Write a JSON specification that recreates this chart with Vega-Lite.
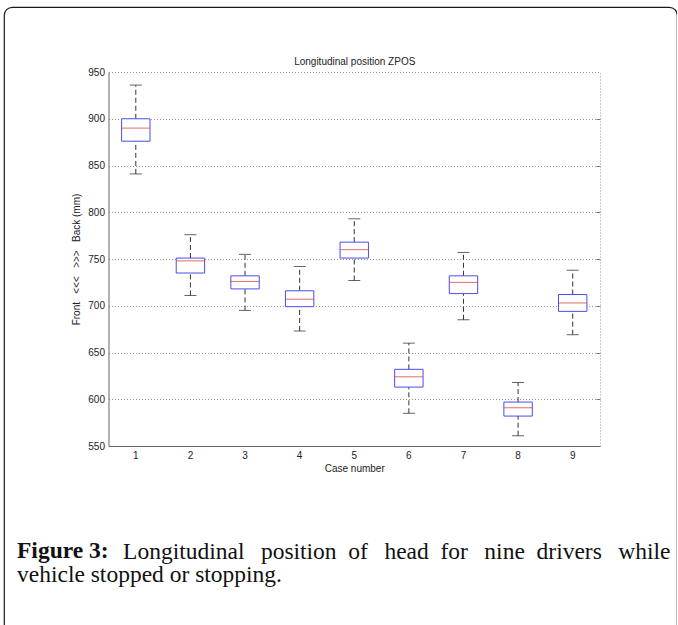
{
  "$schema": "https://vega.github.io/schema/vega-lite/v6.json",
  "width": 673,
  "height": 640,
  "padding": {"left": 4, "top": 7, "right": 0, "bottom": -22},
  "autosize": {"type": "none"},
  "background": "white",
  "config": {
    "view": {"stroke": "#1a1a1a", "strokeWidth": 1.2, "cornerRadius": 8, "fill": "white"},
    "axis": {
      "labelFont": "Liberation Sans", "titleFont": "Liberation Sans",
      "labelFontSize": 10, "titleFontSize": 10,
      "labelColor": "#222", "titleColor": "#222",
      "titleFontWeight": "normal", "domainColor": "#777", "tickColor": "#777"
    }
  },
  "title": {
    "text": "Figure 3:",
    "subtitle": "vehicle stopped or stopping.",
    "orient": "bottom", "anchor": "start", "frame": "group",
    "offset": -108, "dx": 13,
    "font": "Liberation Serif", "fontSize": 23.5, "fontWeight": "bold", "color": "#111", "baseline": "top",
    "subtitleFont": "Liberation Serif", "subtitleFontSize": 23.5, "subtitleFontWeight": "normal",
    "subtitleColor": "#111", "subtitleLineHeight": 24, "subtitlePadding": 0.5
  },
  "data": {
    "values": [
      {"case": 1, "lower": 841, "q1": 876, "median": 890, "q3": 900, "upper": 936},
      {"case": 2, "lower": 711, "q1": 735, "median": 748, "q3": 751, "upper": 776},
      {"case": 3, "lower": 695, "q1": 718, "median": 726, "q3": 732, "upper": 755},
      {"case": 4, "lower": 673, "q1": 699, "median": 707, "q3": 716, "upper": 742},
      {"case": 5, "lower": 727, "q1": 751, "median": 760, "q3": 768, "upper": 793},
      {"case": 6, "lower": 585, "q1": 613, "median": 624, "q3": 632, "upper": 660},
      {"case": 7, "lower": 685, "q1": 713, "median": 725, "q3": 732, "upper": 757},
      {"case": 8, "lower": 561, "q1": 582, "median": 591, "q3": 597, "upper": 618},
      {"case": 9, "lower": 669, "q1": 694, "median": 703, "q3": 712, "upper": 738}
    ]
  },
  "layer": [
    {
      "mark": {"type": "rule", "color": "#333", "strokeDash": [5, 3], "strokeWidth": 1},
      "encoding": {
        "x": {
          "field": "case", "type": "ordinal",
          "scale": {"range": [104.5, 596], "paddingInner": 0, "paddingOuter": 0},
          "axis": {
            "orient": "bottom", "offset": -201, "title": "Case number", "labelAngle": 0,
            "ticks": false, "labelPadding": 4, "titlePadding": 3, "domainColor": "#666"
          }
        },
        "y": {
          "field": "lower", "type": "quantitative",
          "scale": {"domain": [550, 950], "range": [439, 65], "nice": false, "zero": false},
          "axis": {
            "orient": "left", "offset": -104.5,
            "values": [550, 600, 650, 700, 750, 800, 850, 900, 950],
            "title": "Front\u00a0\u00a0\u00a0<<<\u00a0\u00a0\u00a0>>>\u00a0\u00a0\u00a0Back (mm)",
            "ticks": false, "labelPadding": 4, "titlePadding": 6,
            "grid": true, "gridColor": "#999", "gridDash": [1, 2], "gridWidth": 1,
            "domainColor": "#666"
          }
        },
        "y2": {"field": "q1"}
      }
    },
    {
      "mark": {"type": "rule", "color": "#333", "strokeDash": [5, 3], "strokeWidth": 1},
      "encoding": {
        "x": {"field": "case", "type": "ordinal", "axis": null},
        "y": {"field": "q3", "type": "quantitative", "axis": null},
        "y2": {"field": "upper"}
      }
    },
    {
      "mark": {"type": "tick", "color": "#222", "size": 12, "thickness": 1, "orient": "horizontal"},
      "encoding": {
        "x": {"field": "case", "type": "ordinal", "axis": null},
        "y": {"field": "lower", "type": "quantitative", "axis": null}
      }
    },
    {
      "mark": {"type": "tick", "color": "#222", "size": 12, "thickness": 1, "orient": "horizontal"},
      "encoding": {
        "x": {"field": "case", "type": "ordinal", "axis": null},
        "y": {"field": "upper", "type": "quantitative", "axis": null}
      }
    },
    {
      "mark": {"type": "bar", "fill": "white", "stroke": "#4b4bf0", "strokeWidth": 1, "width": {"band": 0.52}},
      "encoding": {
        "x": {"field": "case", "type": "ordinal", "axis": null},
        "y": {"field": "q1", "type": "quantitative", "axis": null},
        "y2": {"field": "q3"}
      }
    },
    {
      "mark": {"type": "tick", "color": "#e02a2a", "size": 28, "thickness": 1, "orient": "horizontal"},
      "encoding": {
        "x": {"field": "case", "type": "ordinal", "axis": null},
        "y": {"field": "median", "type": "quantitative", "axis": null}
      }
    },
    {
      "mark": {"type": "point", "opacity": 0},
      "encoding": {
        "x": {
          "field": "case", "type": "ordinal",
          "axis": {
            "orient": "top", "offset": -65, "title": "Longitudinal position ZPOS",
            "labels": false, "ticks": false, "titlePadding": 6,
            "domainColor": "#999", "domainDash": [1, 2]
          }
        },
        "y": {
          "field": "median", "type": "quantitative",
          "axis": {
            "orient": "right", "offset": -77, "title": null, "labels": false,
            "values": [600, 650, 700, 750, 800, 850, 900],
            "ticks": true, "tickSize": -4, "tickColor": "#777",
            "domainColor": "#999", "domainDash": [1, 2]
          }
        }
      }
    },
    {
      "mark": {"type": "point", "opacity": 0},
      "encoding": {
        "x": {
          "field": "case", "type": "ordinal",
          "axis": {
            "orient": "bottom", "offset": 0, "domain": false, "labels": false, "ticks": false, "grid": false,
            "title": "Longitudinal \u00a0\u2009position \u00a0of \u00a0\u2009head \u00a0for \u00a0\u2009nine \u00a0drivers \u00a0\u2009while",
            "titleFont": "Liberation Serif", "titleFontSize": 23.5, "titleFontWeight": "normal", "titleColor": "#111",
            "titleX": 666, "titleY": -89, "titleAlign": "right", "titleAnchor": null, "titleBaseline": "alphabetic"
          }
        }
      }
    }
  ],
  "resolve": {"axis": {"x": "independent", "y": "independent"}}
}
